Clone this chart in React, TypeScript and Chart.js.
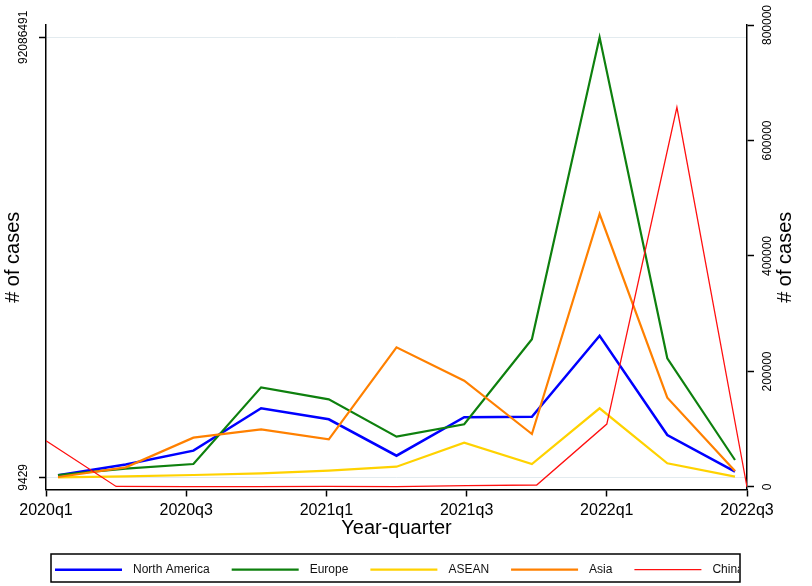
import React, { useEffect, useRef } from 'react';
import { Chart, registerables } from 'chart.js';

Chart.register(...registerables);

const FONT = '"Liberation Sans", Arial, Helvetica, sans-serif';

const quarters = ['2020q1', '2020q2', '2020q3', '2020q4', '2021q1', '2021q2', '2021q3', '2021q4', '2022q1', '2022q2', '2022q3'];
const seriesNames = ['North America', 'Europe', 'ASEAN', 'Asia', 'China'];

const northAmerica = [430000, 2700000, 5580000, 14450000, 12150000, 4530000, 12570000, 12690000, 29640000, 8860000, 1180000];
const europe = [490000, 1810000, 2790000, 18840000, 16330000, 8510000, 11100000, 28890000, 92086491, 24910000, 3630000];
const asean = [9429, 200000, 490000, 850000, 1390000, 2230000, 7250000, 2790000, 14450000, 2940000, 135000];
const asia = [72000, 2100000, 8300000, 10050000, 7960000, 27210000, 20220000, 9070000, 55110000, 16670000, 1330000];
const china = [80000, 1000, 800, 600, 1000, 600, 2500, 3500, 109000, 657500, 0];

const leftTicks = [9429, 92086491];
const rightTicks = [0, 200000, 400000, 600000, 800000];
const xTicks = [0, 2, 4, 6, 8, 10];

const colors = ['#0000ff', '#0e800e', '#ffd200', '#ff8000', '#ff1010'];
const widths = [2.5, 2.2, 2.2, 2.2, 1.3];

const overlay = {
  id: 'overlay',
  afterDraw(chart: any) {
    const { ctx, chartArea, scales } = chart;
    ctx.save();
    ctx.fillStyle = '#000';
    const rot = (text: string, x: number, y: number, size: number) => {
      ctx.save();
      ctx.translate(x, y);
      ctx.rotate(-Math.PI / 2);
      ctx.font = `${size}px ${FONT}`;
      ctx.textAlign = 'center';
      ctx.textBaseline = 'middle';
      ctx.fillStyle = '#000';
      ctx.fillText(text, 0, 0);
      ctx.restore();
    };
    const flat = (text: string, x: number, y: number, size: number) => {
      ctx.font = `${size}px ${FONT}`;
      ctx.textAlign = 'center';
      ctx.textBaseline = 'middle';
      ctx.fillStyle = '#000';
      ctx.fillText(text, x, y);
    };
    scales.y.ticks.forEach((t: any) => rot(String(t.value), 23.5, scales.y.getPixelForValue(t.value), 12));
    scales.y1.ticks.forEach((t: any) => rot(String(t.value), 768, scales.y1.getPixelForValue(t.value), 12));
    scales.x.ticks.forEach((t: any) => flat(quarters[t.value], scales.x.getPixelForValue(t.value), 511, 16));
    const midY = (chartArea.top + chartArea.bottom) / 2;
    const midX = (chartArea.left + chartArea.right) / 2;
    rot('# of cases', 13, midY, 20);
    rot('# of cases', 785.5, midY, 20);
    flat('Year-quarter', midX, 528.5, 20);

    // legend
    const bl = 51, bt = 554, br = 740, bb = 582;
    ctx.lineWidth = 1.5;
    ctx.strokeStyle = '#000';
    ctx.strokeRect(bl, bt, br - bl, bb - bt);
    ctx.save();
    ctx.beginPath();
    ctx.rect(bl, bt, br - bl - 1, bb - bt);
    ctx.clip();
    let x = 55;
    const cy = 569.7;
    ctx.font = `12px ${FONT}`;
    chart.data.datasets.forEach((ds: any) => {
      ctx.strokeStyle = ds.borderColor;
      ctx.lineWidth = ds.borderWidth;
      ctx.beginPath();
      ctx.moveTo(x, cy);
      ctx.lineTo(x + 67, cy);
      ctx.stroke();
      x += 67 + 11;
      ctx.fillStyle = '#111';
      ctx.textAlign = 'left';
      ctx.textBaseline = 'middle';
      ctx.fillText(ds.label, x, cy);
      x += ctx.measureText(ds.label).width + 22;
    });
    ctx.restore();
    ctx.restore();
  },
};

export default function App() {
  const ref = useRef<HTMLCanvasElement>(null);
  useEffect(() => {
    Chart.defaults.font.family = FONT;
    const leftSeries = [northAmerica, europe, asean, asia];
    const datasets: any[] = leftSeries.map((arr, k) => ({
      label: seriesNames[k],
      data: arr.map((v, i) => ({ x: i, y: v })),
      xAxisID: 'x2',
      yAxisID: 'y',
      borderColor: colors[k],
      borderWidth: widths[k],
      pointRadius: 0,
      tension: 0,
      borderJoinStyle: 'miter',
      fill: false,
      order: 5 - k,
    }));
    datasets.push({
      label: seriesNames[4],
      data: china.map((v, i) => ({ x: i, y: v })),
      xAxisID: 'x',
      yAxisID: 'y1',
      borderColor: colors[4],
      borderWidth: widths[4],
      pointRadius: 0,
      tension: 0,
      borderJoinStyle: 'miter',
      fill: false,
      order: 1,
    });
    const chart = new Chart(ref.current as HTMLCanvasElement, {
      type: 'line',
      data: { datasets },
      options: {
        animation: false,
        responsive: false,
        devicePixelRatio: 1,
        layout: { padding: { left: 39, right: 58, top: 25, bottom: 89.5 } },
        plugins: { legend: { display: false }, tooltip: { enabled: false } },
        scales: {
          x: {
            type: 'linear',
            position: 'bottom',
            min: 0,
            max: 10,
            afterBuildTicks: (s: any) => { s.ticks = xTicks.map((v) => ({ value: v })); },
            ticks: { display: false },
            grid: { drawOnChartArea: false, drawTicks: true, tickLength: 7, tickColor: '#000', tickWidth: 1.5 },
            border: { display: true, color: '#000', width: 1.5 },
          },
          x2: { type: 'linear', display: false, min: -0.1773, max: 10.1772 },
          y: {
            type: 'linear',
            position: 'left',
            min: -2543616,
            max: 94660463,
            afterBuildTicks: (s: any) => { s.ticks = leftTicks.map((v) => ({ value: v })); },
            ticks: { display: false },
            grid: { color: '#e3ebef', lineWidth: 1, drawTicks: true, tickLength: 7, tickColor: '#000', tickWidth: 1.5 },
            border: { display: true, color: '#000', width: 1.5 },
          },
          y1: {
            type: 'linear',
            position: 'right',
            min: -4330,
            max: 800000,
            afterBuildTicks: (s: any) => { s.ticks = rightTicks.map((v) => ({ value: v })); },
            ticks: { display: false },
            grid: { drawOnChartArea: false, drawTicks: true, tickLength: 7, tickColor: '#000', tickWidth: 1.5 },
            border: { display: true, color: '#000', width: 1.5 },
          },
        },
      },
      plugins: [overlay],
    } as any);
    return () => chart.destroy();
  }, []);
  return (
    <canvas
      ref={ref}
      width={812}
      height={586}
      style={{ position: 'fixed', left: 0, top: 0, width: 812, height: 586, display: 'block', background: '#fff' }}
    />
  );
}
